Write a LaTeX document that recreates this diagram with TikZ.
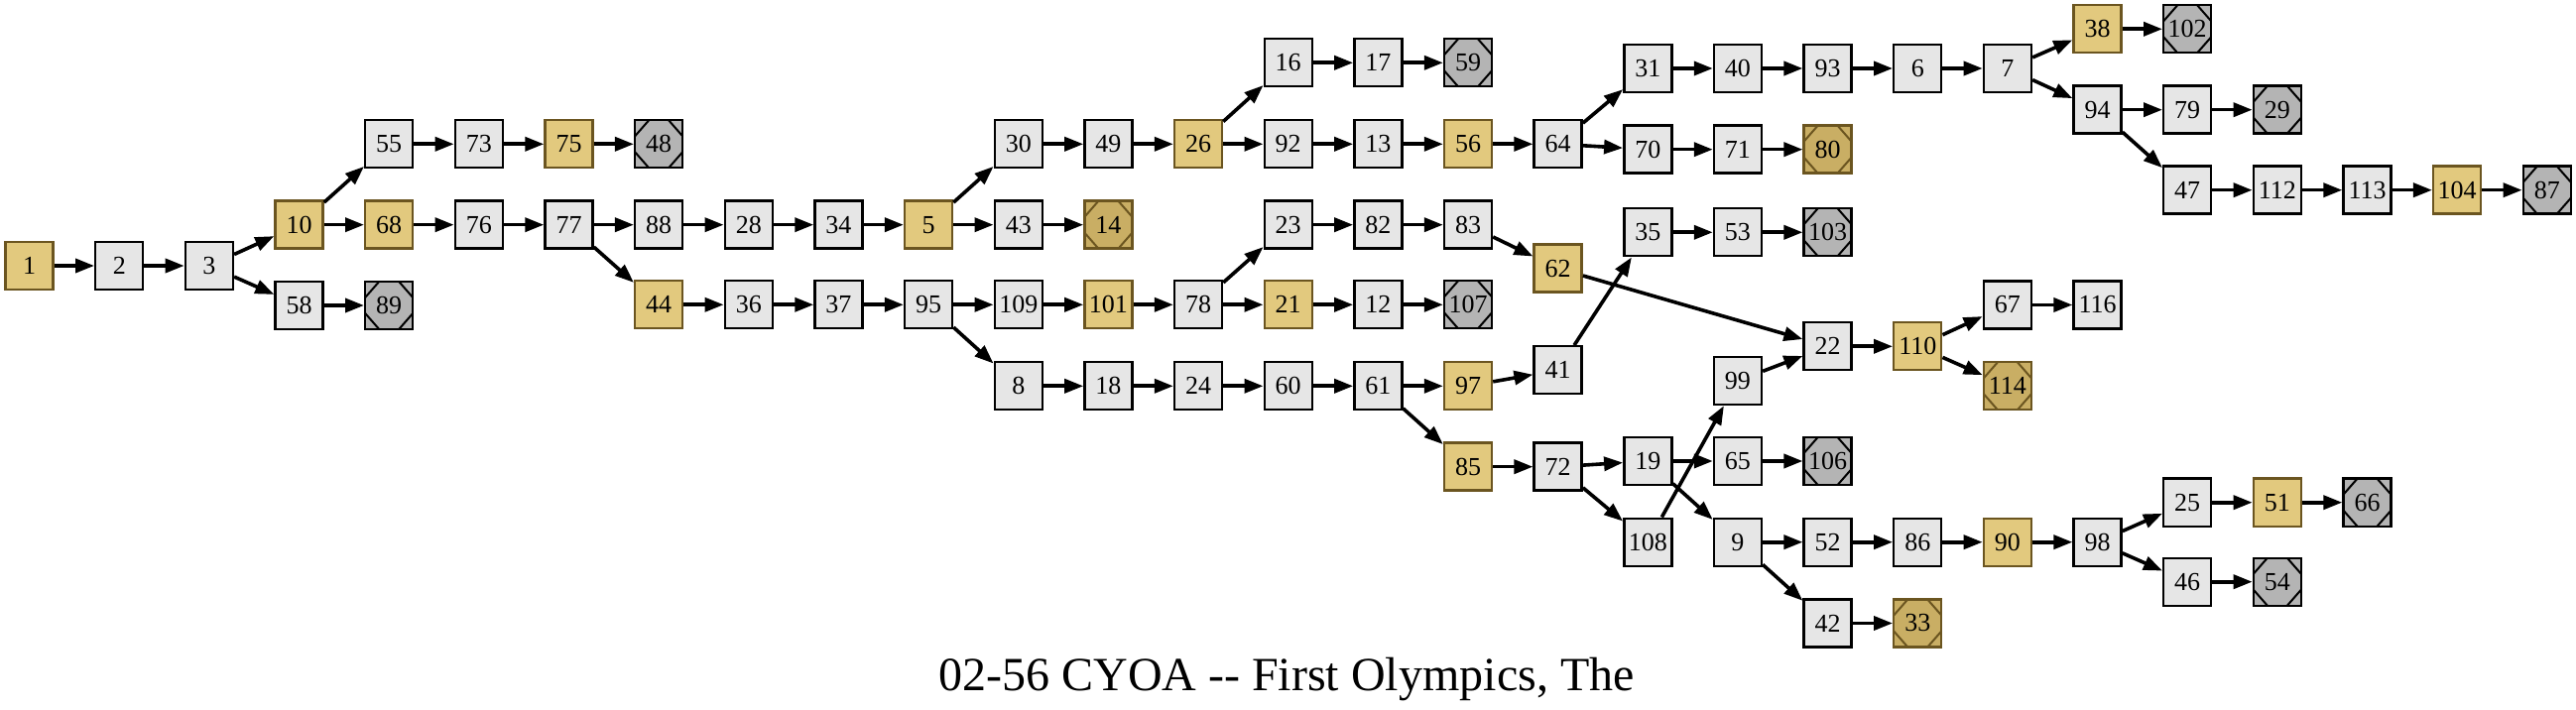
\documentclass[tikz,border=0pt]{standalone}
\usepackage{fontspec}
\setmainfont{Liberation Serif}
\usepackage{tikz}
\usetikzlibrary{arrows.meta}
\definecolor{pgfill}{HTML}{E6E6E6}
\definecolor{goldfill}{HTML}{E2C97E}
\definecolor{goldline}{HTML}{6B5520}
\definecolor{wonfill}{HTML}{C9AE64}
\definecolor{deadfill}{HTML}{B4B4B4}
\tikzset{
  pgbox/.style={draw,line width=1.2pt,fill=pgfill,minimum width=24pt,minimum height=24pt,inner sep=0pt,font=\fontsize{13}{14}\selectfont},
  goldbox/.style={pgbox,draw=goldline,fill=goldfill},
  cuts/.style={path picture={
    \draw[line width=1pt,#1]
      ([xshift=7pt]path picture bounding box.north west) -- ([yshift=-8pt]path picture bounding box.north west)
      ([xshift=-7pt]path picture bounding box.north east) -- ([yshift=-8pt]path picture bounding box.north east)
      ([xshift=7pt]path picture bounding box.south west) -- ([yshift=8pt]path picture bounding box.south west)
      ([xshift=-7pt]path picture bounding box.south east) -- ([yshift=8pt]path picture bounding box.south east);}},
  deadend/.style={pgbox,fill=deadfill,cuts=black},
  goodend/.style={pgbox,draw=goldline,fill=wonfill,cuts=goldline},
  arr/.style={-{Triangle[length=9.5pt,width=7pt]},line width=1.8pt},
  ttl/.style={font=\fontsize{24}{28}\selectfont,anchor=base},
}

\begin{document}
\begin{tikzpicture}[x=0.5pt,y=-0.5pt]
 \useasboundingbox (0,0) rectangle (2597,716);
 % page/column/row
 \foreach \n/\c/\r in {2/1/268,3/2/268,58/3/308,55/4/145.3,73/5/145.3,76/5/226.7,77/6/226.7,88/7/226.7,
   28/8/226.7,36/8/307.3,34/9/226.7,37/9/307.3,95/10/307.3,30/11/145.3,43/11/226.7,109/11/307.3,8/11/389.3,
   49/12/145.3,18/12/389.3,78/13/307.3,24/13/389.3,16/14/63.3,92/14/145.3,23/14/226.7,60/14/389.3,
   17/15/63.3,13/15/145.3,82/15/226.7,12/15/307.3,61/15/389.3,83/16/226.7,64/17/145.3,41/17/373.3,72/17/470.7,
   31/18/69,70/18/150.7,35/18/234.3,19/18/465,108/18/546.7,40/19/69,71/19/150.7,53/19/234.3,99/19/384,
   65/19/465,9/19/546.7,93/20/69,22/20/349.3,52/20/546.7,42/20/628.5,6/21/69,86/21/546.7,7/22/69,
   67/22/307.5,94/23/110.7,116/23/307.5,98/23/546.7,79/24/110.7,47/24/191.7,25/24/506.7,46/24/586.7,
   112/25/191.7,113/26/191.7}
   {\node[pgbox] (p\n) at ({29.6+90.65*\c},\r) {\n};}
 \foreach \n/\c/\r in {1/0/268,10/3/226.7,68/4/226.7,75/6/145.3,44/7/307.3,5/10/226.7,26/13/145.3,
   101/12/307.3,21/14/307.3,56/16/145.3,97/16/389.3,85/16/470.7,62/17/270.7,110/21/349.3,90/22/546.7,
   38/23/29.3,51/25/506.7,104/27/191.7}
   {\node[goldbox] (p\n) at ({29.6+90.65*\c},\r) {\n};}
 % endings
 \foreach \n/\c/\r in {14/12/226.7,80/20/150.7,114/22/389.3,33/21/628.5}
   {\node[goodend] (p\n) at ({29.6+90.65*\c},\r) {\n};}
 \foreach \n/\c/\r in {89/4/308,48/7/145.3,59/16/63.3,107/16/307.3,103/20/234.3,106/20/465,102/24/29.3,
   29/25/110.7,87/28/191.7,66/26/506.7,54/25/586.7}
   {\node[deadend] (p\n) at ({29.6+90.65*\c},\r) {\n};}
 \foreach \a/\b in {1/2,2/3,3/10,3/58,10/55,10/68,58/89,55/73,73/75,75/48,68/76,76/77,77/88,77/44,
   88/28,28/34,34/5,5/30,5/43,43/14,30/49,49/26,26/16,26/92,16/17,17/59,92/13,13/56,56/64,64/31,64/70,
   31/40,40/93,93/6,6/7,7/38,7/94,38/102,94/79,79/29,94/47,47/112,112/113,113/104,104/87,70/71,71/80,
   44/36,36/37,37/95,95/109,95/8,109/101,101/78,78/23,78/21,23/82,82/83,83/62,62/22,21/12,12/107,
   8/18,18/24,24/60,60/61,61/97,61/85,97/41,41/35,35/53,53/103,85/72,72/19,72/108,19/65,19/9,65/106,
   108/99,99/22,22/110,110/67,110/114,67/116,9/52,9/42,52/86,86/90,90/98,98/25,98/46,25/51,51/66,
   46/54,42/33}
   {\draw[arr] (p\a) -- (p\b);}
 \node[ttl] (title) at (1297,696.7) {02-56 CYOA -{}- First Olympics, The};
\end{tikzpicture}
\end{document}
